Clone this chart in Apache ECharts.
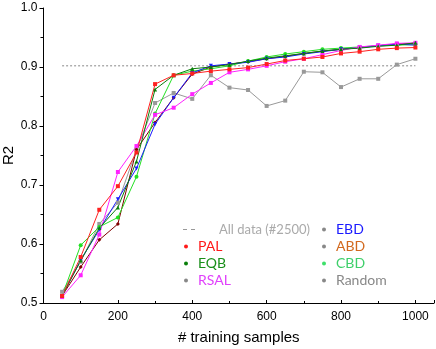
<!DOCTYPE html>
<html>
<head>
<meta charset="utf-8">
<script src="https://cdn.jsdelivr.net/npm/echarts@6/dist/echarts.min.js"></script>
<style>
  html, body { margin: 0; padding: 0; background: #fff; }
  #chart { width: 436px; height: 349px; }
</style>
</head>
<body>
<div id="chart"></div>
<script>
// training sample counts (x)
var samples = [50, 100, 150, 200, 250, 300, 350, 400, 450, 500, 550, 600, 650, 700, 750, 800, 850, 900, 950, 1000];

// R2 per method
var pal    = [0.512, 0.578, 0.658, 0.698, 0.755, 0.871, 0.886, 0.889, 0.893, 0.896, 0.899, 0.905, 0.911, 0.914, 0.917, 0.923, 0.926, 0.930, 0.932, 0.933];
var eqb    = [0.512, 0.572, 0.627, 0.662, 0.740, 0.862, 0.886, 0.897, 0.900, 0.904, 0.910, 0.915, 0.919, 0.923, 0.927, 0.930, 0.932, 0.935, 0.937, 0.941];
var rsal   = [0.510, 0.547, 0.616, 0.722, 0.766, 0.819, 0.831, 0.854, 0.873, 0.891, 0.896, 0.902, 0.909, 0.914, 0.921, 0.928, 0.934, 0.937, 0.940, 0.941];
var ebd    = [0.512, 0.573, 0.624, 0.676, 0.728, 0.803, 0.848, 0.890, 0.902, 0.905, 0.908, 0.914, 0.917, 0.922, 0.926, 0.930, 0.933, 0.936, 0.939, 0.937];
var abd    = [0.512, 0.561, 0.607, 0.634, 0.760, 0.806, 0.848, 0.888, 0.900, 0.905, 0.909, 0.914, 0.918, 0.923, 0.927, 0.930, 0.933, 0.936, 0.939, 0.940];
var cbd    = [0.512, 0.598, 0.629, 0.645, 0.714, 0.821, 0.886, 0.893, 0.897, 0.902, 0.910, 0.917, 0.922, 0.926, 0.930, 0.932, 0.934, 0.936, 0.937, 0.938];
var random = [0.519, 0.570, 0.634, 0.670, 0.760, 0.839, 0.856, 0.846, 0.886, 0.865, 0.861, 0.834, 0.843, 0.892, 0.891, 0.866, 0.880, 0.880, 0.904, 0.914];

// reference: model trained on all data
var allDataR2 = 0.902;
var allDataSpan = [50, 1000];

var xTicks = [0, 200, 400, 600, 800, 1000];
var yTicks = [0.5, 0.6, 0.7, 0.8, 0.9, 1.0];

var chart = echarts.init(document.getElementById('chart'));

var pair = function (ys) {
    var res = [];
    for (var i = 0; i < samples.length; i++) {
        res.push([samples[i], ys[i]]);
    }
    return res;
};

var mk = function (name, ys, color, symbol, rotate) {
    return {
        name: name,
        type: 'line',
        data: pair(ys),
        symbol: symbol,
        symbolSize: 4,
        symbolRotate: rotate || 0,
        showSymbol: true,
        lineStyle: { color: color, width: 1 },
        itemStyle: { color: color },
        animation: false,
        z: 3
    };
};

var option = {
    backgroundColor: '#fff',
    grid: { left: 43.5, right: 2, top: 8, bottom: 46, outerBoundsMode: 'none' },
    xAxis: {
        type: 'value',
        min: 0,
        max: 1050,
        interval: 200,
        name: '# training samples',
        nameLocation: 'middle',
        nameGap: 27,
        nameMoveOverlap: false,
        nameTextStyle: { fontFamily: 'Liberation Sans', fontSize: 15, color: '#000' },
        axisLine: { lineStyle: { color: '#000', width: 1 } },
        axisTick: { inside: true, length: 3, lineStyle: { color: '#000' } },
        minorTick: { show: true, splitNumber: 2, length: 2, lineStyle: { color: '#000' } },
        axisLabel: {
            fontFamily: 'Liberation Sans', fontSize: 12, color: '#000', margin: 8,
            showMaxLabel: false,
            formatter: function (v) { return xTicks.indexOf(v) >= 0 ? String(v) : ''; }
        },
        splitLine: { show: false }
    },
    yAxis: {
        type: 'value',
        min: 0.5,
        max: 1.0,
        interval: 0.1,
        name: 'R2',
        nameLocation: 'middle',
        nameGap: 27,
        nameMoveOverlap: false,
        nameTextStyle: { fontFamily: 'Liberation Sans', fontSize: 15, color: '#000' },
        axisLine: { show: true, lineStyle: { color: '#000', width: 1 } },
        axisTick: { show: true, inside: false, length: 4, lineStyle: { color: '#000' } },
        minorTick: { show: true, splitNumber: 2, length: 3, lineStyle: { color: '#000' } },
        axisLabel: {
            fontFamily: 'Liberation Sans', fontSize: 12, color: '#000', margin: 6,
            formatter: function (v) {
                for (var i = 0; i < yTicks.length; i++) {
                    if (Math.abs(yTicks[i] - v) < 1e-6) return yTicks[i].toFixed(1);
                }
                return '';
            }
        },
        splitLine: { show: false }
    },
    legend: [
        {
            orient: 'vertical', left: 178, top: 216, itemGap: 0,
            itemWidth: 12, itemHeight: 2,
            data: [{
                name: 'All data (#2500)',
                icon: 'path://M0,0h4v1h-4zM8,0h4v1h-4z',
                itemStyle: { color: '#999' },
                textStyle: { color: '#aaa', padding: [0, 0, 0, 19] }
            }],
            textStyle: { fontFamily: 'Lato', fontSize: 13, lineHeight: 17 }
        },
        {
            orient: 'vertical', left: 179, top: 233, itemGap: 0,
            itemWidth: 4, itemHeight: 4, icon: 'circle',
            data: [
                { name: 'PAL', itemStyle: { color: '#ff1a1a' }, textStyle: { color: '#ff1a1a' } },
                { name: 'EQB', itemStyle: { color: '#0a7f0a' }, textStyle: { color: '#1a8f1a' } },
                { name: 'RSAL', itemStyle: { color: '#888' }, textStyle: { color: '#e040fb' } }
            ],
            textStyle: { fontFamily: 'Lato', fontSize: 14, lineHeight: 17, padding: [0, 0, 0, 5] }
        },
        {
            orient: 'vertical', left: 317, top: 216, itemGap: 0,
            itemWidth: 4, itemHeight: 4, icon: 'circle',
            data: [
                { name: 'EBD', itemStyle: { color: '#888' }, textStyle: { color: '#1a1aff' } },
                { name: 'ABD', itemStyle: { color: '#888' }, textStyle: { color: '#d2691e' } },
                { name: 'CBD', itemStyle: { color: '#3ee06a' }, textStyle: { color: '#3ecf6a' } },
                { name: 'Random', itemStyle: { color: '#888' }, textStyle: { color: '#888' } }
            ],
            textStyle: { fontFamily: 'Lato', fontSize: 14, lineHeight: 17, padding: [0, 0, 0, 5] }
        }
    ],
    series: [
        {
            name: 'All data (#2500)',
            type: 'line',
            data: [[allDataSpan[0], allDataR2], [allDataSpan[1], allDataR2]],
            showSymbol: false,
            symbol: 'none',
            lineStyle: { color: '#888', width: 1, type: [2, 2] },
            itemStyle: { color: '#888' },
            animation: false,
            z: 1
        },
        mk('Random', random, '#999999', 'rect'),
        mk('ABD', abd, '#800000', 'diamond'),
        mk('CBD', cbd, '#22e022', 'circle'),
        mk('EBD', ebd, '#1a1aff', 'triangle', 180),
        mk('RSAL', rsal, '#ff22ff', 'rect'),
        mk('EQB', eqb, '#0a7f0a', 'triangle'),
        mk('PAL', pal, '#ff2020', 'rect')
    ]
};

chart.setOption(option);
</script>
</body>
</html>
